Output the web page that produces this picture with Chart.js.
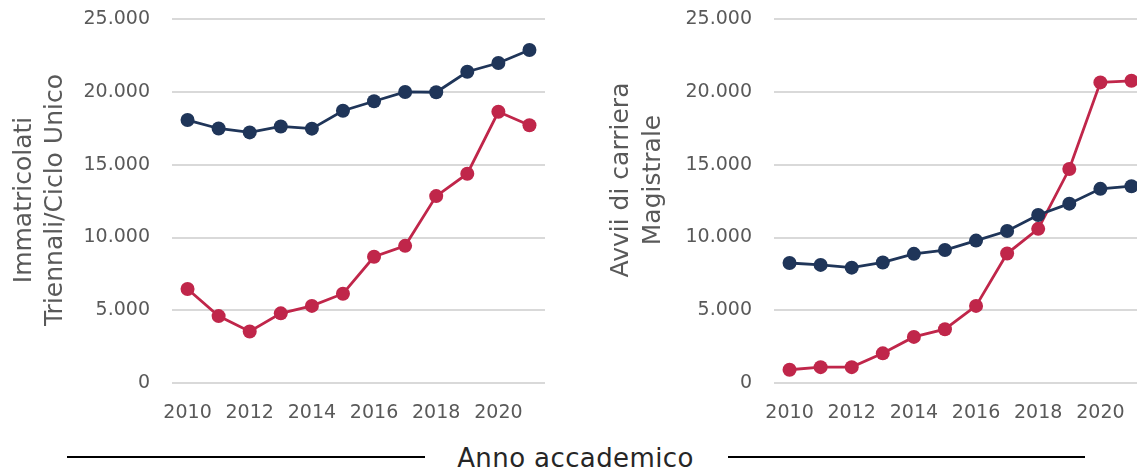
<!DOCTYPE html>
<html>
<head>
<meta charset="utf-8">
<script src="https://cdn.jsdelivr.net/npm/chart.js@4/dist/chart.umd.min.js"></script>
<style>
  html, body { margin: 0; padding: 0; background: #fff; overflow: hidden; }
  #wrap { position: relative; width: 1137px; height: 470px; overflow: hidden; background: #fff; }
  canvas { position: absolute; top: -14px; }
  #leftChart { left: 0; }
  #rightChart { left: 580px; }
  .rule { position: absolute; top: 456px; height: 2px; background: #000; }
  #xTitle {
    position: absolute; left: 0; width: 1151px; top: 442px; text-align: center;
    font-family: "DejaVu Sans", sans-serif; font-size: 26px; letter-spacing: 0.4px;
    color: #262626; line-height: 32px;
  }
</style>
</head>
<body>
<div id="wrap">
  <canvas id="leftChart" width="560" height="454"></canvas>
  <canvas id="rightChart" width="582" height="454"></canvas>
  <div class="rule" style="left:67px;width:358px"></div>
  <div class="rule" style="left:728px;width:357px"></div>
  <div id="xTitle">Anno accademico</div>
</div>
<script>
// anni accademici
const years = ['2010', '2011', '2012', '2013', '2014', '2015', '2016', '2017', '2018', '2019', '2020', '2021'];

// Immatricolati Triennali/Ciclo Unico
const leftNavy = [18080, 17500, 17230, 17640, 17490, 18720, 19370, 20010, 19990, 21400, 22000, 22900];
const leftRed = [6460, 4600, 3540, 4790, 5300, 6140, 8680, 9430, 12850, 14390, 18650, 17720];

// Avvii di carriera Magistrale
const rightNavy = [8250, 8120, 7930, 8290, 8880, 9140, 9790, 10450, 11550, 12330, 13350, 13530];
const rightRed = [910, 1090, 1090, 2040, 3170, 3700, 5300, 8900, 10600, 14710, 20670, 20780];

const yTicks = [0, 5000, 10000, 15000, 20000, 25000];

const NAVY = '#1f3559';
const RED = '#c0264a';
const FONT = '"DejaVu Sans", sans-serif';

function fmt(v) {
    return String(v).replace(/\B(?=(\d{3})+(?!\d))/g, '.');
}

// rotated y-axis title, drawn by hand so it can sit off-centre
const sideTitle = {
    id: 'sideTitle',
    afterDraw(chart, args, opts) {
        const ctx = chart.ctx;
        ctx.save();
        ctx.font = '25px ' + FONT;
        ctx.fillStyle = '#595959';
        ctx.textAlign = 'center';
        ctx.textBaseline = 'middle';
        opts.lines.forEach((line, i) => {
            ctx.save();
            ctx.translate(opts.x[i], opts.y);
            ctx.rotate(-Math.PI / 2);
            ctx.fillText(line, 0, 0);
            ctx.restore();
        });
        ctx.restore();
    }
};

function makeChart(id, navy, red, axisWidth, padRight, title) {
    const ctx = document.getElementById(id);
    return new Chart(ctx, {
        type: 'line',
        data: {
            labels: years,
            datasets: [
                { data: navy, borderColor: NAVY, backgroundColor: NAVY },
                { data: red, borderColor: RED, backgroundColor: RED }
            ]
        },
        options: {
            responsive: false,
            animation: false,
            devicePixelRatio: 1,
            layout: { padding: { top: 3, right: padRight, bottom: 0, left: 0 } },
            elements: {
                line: { borderWidth: 2.8, tension: 0 },
                point: { radius: 7, borderWidth: 0, hoverRadius: 7 }
            },
            plugins: {
                legend: { display: false },
                tooltip: { enabled: false },
                sideTitle: title
            },
            scales: {
                x: {
                    type: 'category',
                    offset: true,
                    grid: { display: false, drawTicks: false },
                    border: { display: false },
                    ticks: {
                        autoSkip: false,
                        maxRotation: 0,
                        padding: 19,
                        color: '#595959',
                        font: { family: FONT, size: 19 },
                        callback: (v, i) => (i % 2 === 0 ? years[i] : '')
                    },
                    afterFit: (s) => { s.height = 57; }
                },
                y: {
                    min: 0,
                    max: 25000,
                    afterBuildTicks: (s) => { s.ticks = yTicks.map(v => ({ value: v })); },
                    grid: { color: '#d9d9d9', lineWidth: 2, drawTicks: false },
                    border: { display: false },
                    ticks: {
                        padding: 22,
                        color: '#595959',
                        font: { family: FONT, size: 19 },
                        callback: (v) => fmt(v)
                    },
                    afterFit: (s) => { s.width = axisWidth; }
                }
            }
        },
        plugins: [sideTitle]
    });
}

makeChart('leftChart', leftNavy, leftRed, 172, 15,
    { lines: ['Immatricolati', 'Triennali/Ciclo Unico'], x: [24, 55], y: 214 });
makeChart('rightChart', rightNavy, rightRed, 194, 15,
    { lines: ['Avvii di carriera', 'Magistrale'], x: [41, 73], y: 194 });
</script>
</body>
</html>
